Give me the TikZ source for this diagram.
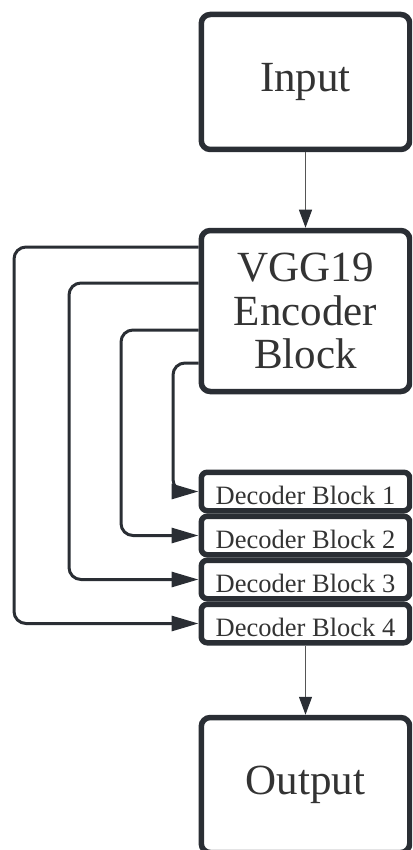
\documentclass[tikz,border=0pt]{standalone}
\usepackage{fontspec}
\setmainfont{Liberation Serif}
\newfontfamily\blockserif{Liberation Serif}
\usetikzlibrary{arrows.meta}
\definecolor{edge}{HTML}{2A2E34}
\definecolor{ink}{HTML}{333333}
\definecolor{thin}{HTML}{555555}
\tikzset{
  bigbox/.style={draw=edge, line width=5.5pt, rounded corners=9pt, fill=white,
    text=ink, minimum width=208.5pt, inner sep=0pt, align=center,
    font=\blockserif\fontsize{43}{43.5}\selectfont},
  decbox/.style={draw=edge, line width=5.5pt, rounded corners=6pt, fill=white,
    text=ink, minimum width=208.5pt, minimum height=38.5pt, inner sep=0pt,
    font=\blockserif\fontsize{26.5}{28}\selectfont, text height=26pt, text depth=0pt},
  skip/.style={draw=edge, line width=3pt, rounded corners=12pt,
    -{Triangle[length=27pt,width=15pt]}},
  flow/.style={draw=thin, line width=1.2pt,
    -{Triangle[length=18pt,width=13pt,color=edge]}}
}
\begin{document}
\begin{tikzpicture}[x=1pt,y=-1pt]
  \useasboundingbox (0,0) rectangle (412,850);
  \clip (0,0) rectangle (412,850);

  % main blocks
  \node[bigbox, minimum height=135pt] (in) at (305.5,82) {Input};
  \node[bigbox, minimum height=161pt] (vgg) at (305.5,311) {VGG19\\Encoder\\Block};
  \node[decbox] (d1) at (305.5,491.5) {Decoder Block 1};
  \node[decbox] (d2) at (305.5,535.5) {Decoder Block 2};
  \node[decbox] (d3) at (305.5,579.5) {Decoder Block 3};
  \node[decbox] (d4) at (305.5,623.5) {Decoder Block 4};
  \node[bigbox, minimum height=135pt] (out) at (305.5,785) {Output};

  % straight flow
  \draw[flow] (in.south) -- (vgg.north);
  \draw[flow] (d4.south) -- (out.north);

  % skip connections from the encoder to each decoder block
  \draw[skip] (vgg.west |- 0,247) -- (14,247) |- (d4.west);
  \draw[skip] (vgg.west |- 0,283) -- (69,283) |- (d3.west);
  \draw[skip] (vgg.west |- 0,330) -- (121,330) |- (d2.west);
  \draw[skip] (vgg.west |- 0,363) -- (173,363) |- (d1.west);
\end{tikzpicture}
\end{document}
